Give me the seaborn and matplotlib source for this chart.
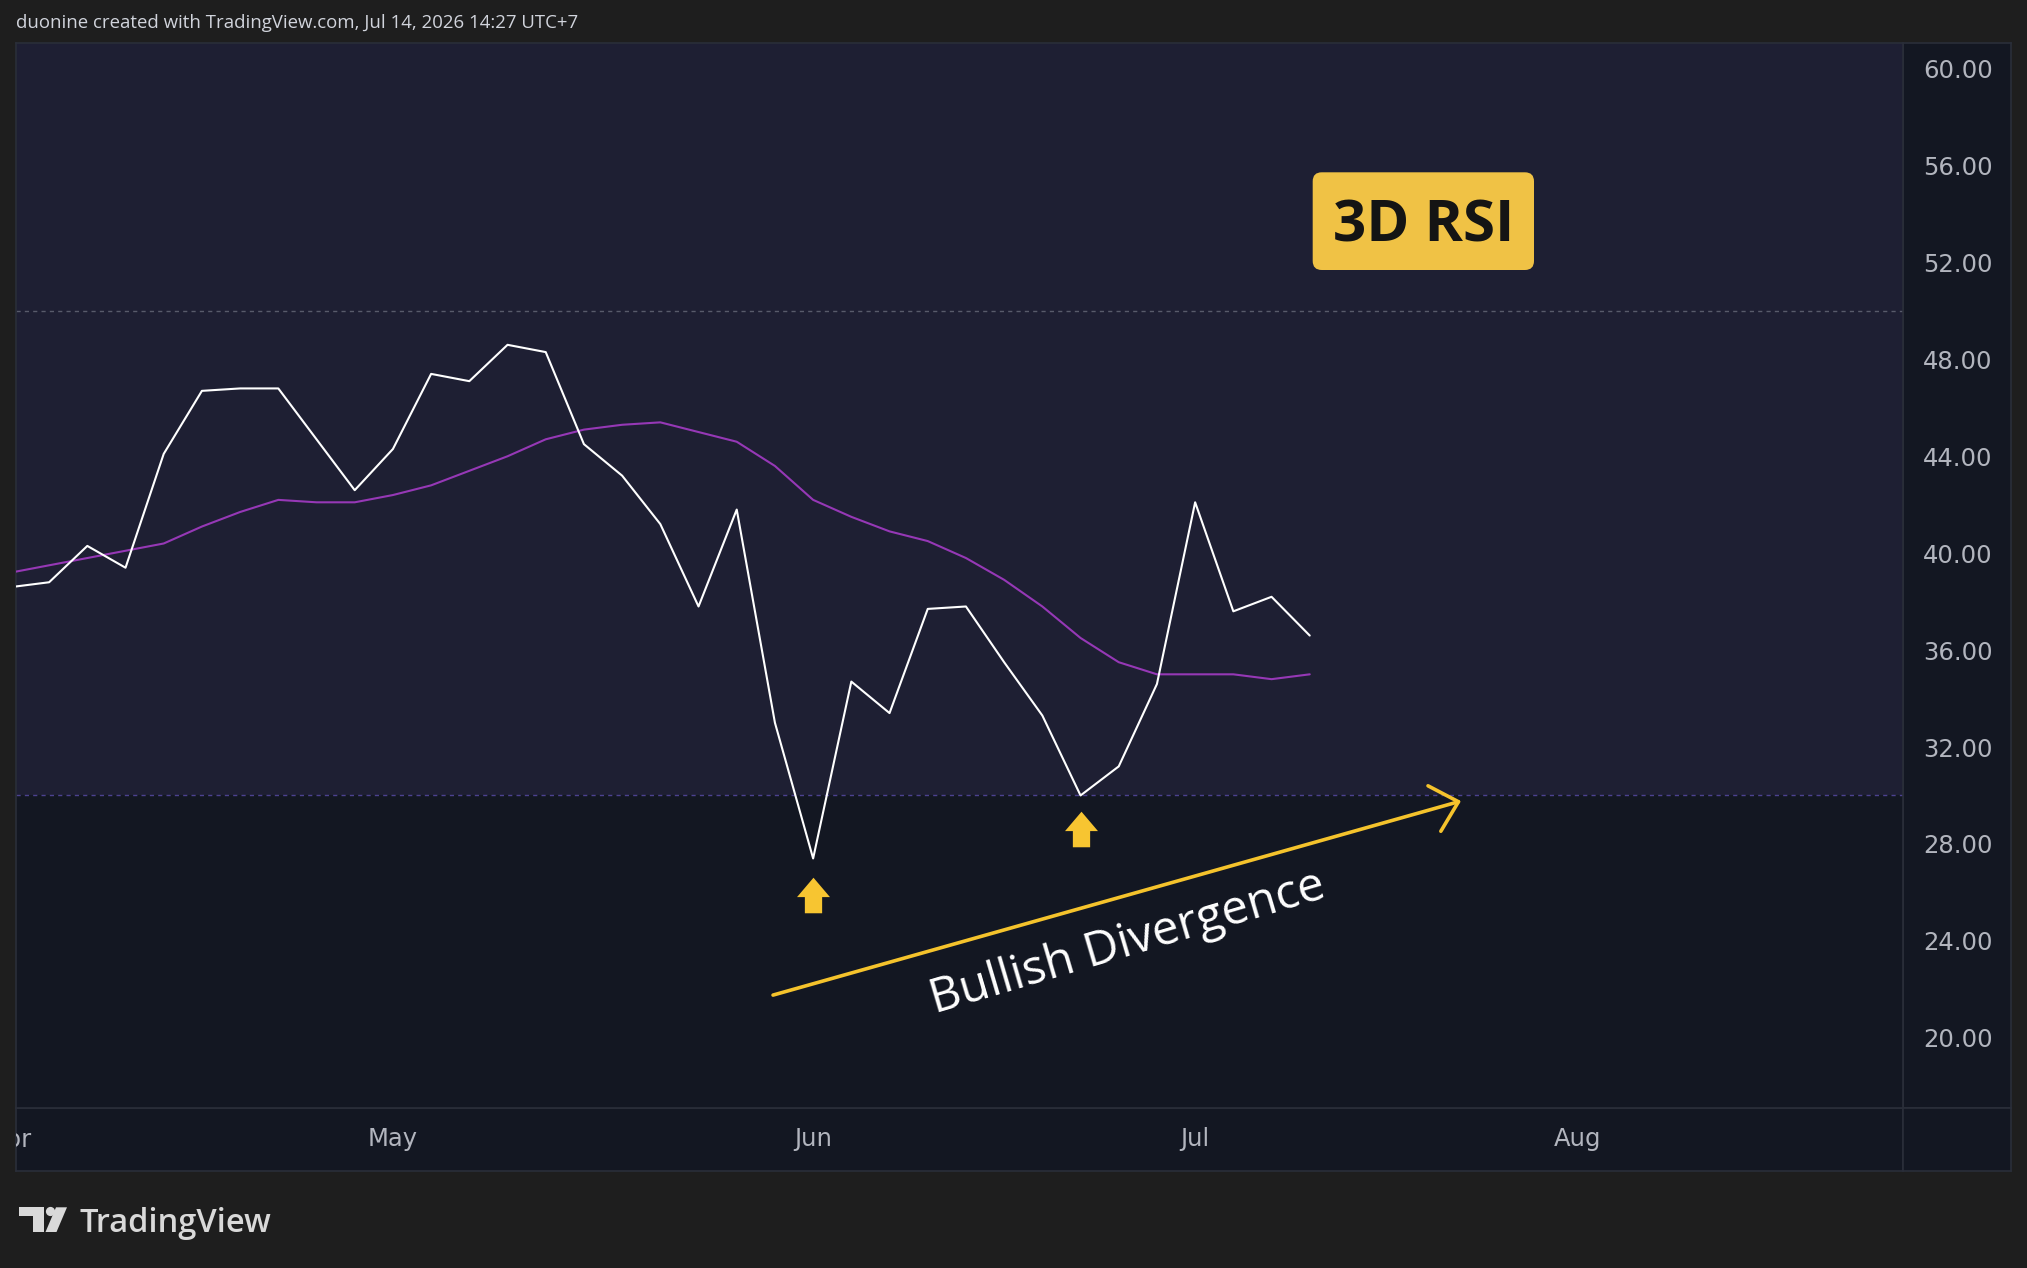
import numpy as np
import pandas as pd
import matplotlib
matplotlib.use("Agg")
import matplotlib.pyplot as plt
import seaborn as sns
from matplotlib.path import Path
from matplotlib.patches import FancyBboxPatch, Rectangle, Circle, Polygon
from matplotlib.transforms import IdentityTransform
from matplotlib import font_manager

# ---------------- data ----------------
bar_index = list(range(-1, 34))
rsi = [38.6, 38.8, 40.3, 39.4, 44.1, 46.7, 46.8, 46.8, 44.7, 42.6,
       44.3, 47.4, 47.1, 48.6, 48.3, 44.5, 43.2, 41.2, 37.8, 41.8,
       33.0, 27.4, 34.7, 33.4, 37.7, 37.8, 35.5, 33.3, 30.0, 31.2,
       34.6, 42.1, 37.6, 38.2, 36.6]
rsi_ma = [39.2, 39.5, 39.8, 40.1, 40.4, 41.1, 41.7, 42.2, 42.1, 42.1,
          42.4, 42.8, 43.4, 44.0, 44.7, 45.1, 45.3, 45.4, 45.0, 44.6,
          43.6, 42.2, 41.5, 40.9, 40.5, 39.8, 38.9, 37.8, 36.5, 35.5,
          35.0, 35.0, 35.0, 34.8, 35.0]
month_labels = ["Apr", "May", "Jun", "Jul", "Aug"]
month_index = [-1, 9, 20, 30, 40]
y_ticks = [20, 24, 28, 32, 36, 40, 44, 48, 52, 56, 60]
level_upper, level_lower = 50, 30
arrow_x = [20, 27]
arrow_y = [25.9, 28.6]
div_start = (18.95, 21.76)
div_end = (36.96, 29.77)

df = pd.DataFrame({"bar": bar_index, "rsi": rsi, "ma": rsi_ma})

# ---------------- style ----------------
sns.set_style("dark")
names = {f.name for f in font_manager.fontManager.ttflist}
txt_font = "Open Sans" if "Open Sans" in names else "DejaVu Sans"
plt.rcParams["font.family"] = [txt_font, "DejaVu Sans"]

W, H = 2027, 1268
BG = "#1e1e1e"
PANE = "#131722"
BAND = "#1e1f33"
GRID = "#2a2e39"
TXT = "#b2b5be"
YEL = "#f5c32c"

fig = plt.figure(figsize=(W / 100, H / 100), dpi=100, facecolor=BG)


def rect(x0, y0, x1, y1):
    return [x0 / W, 1 - y1 / H, (x1 - x0) / W, (y1 - y0) / H]


L, T, R, B = 15.5, 42.7, 1903, 1108
R2, B2 = 2010.5, 1171
XLIM = (-0.88, 48.53)
YLIM = (17.10, 61.07)


def plain(a):
    a.set_facecolor(PANE)
    a.set_xticks([])
    a.set_yticks([])
    for s in a.spines.values():
        s.set_color(GRID)
        s.set_linewidth(1.2)


ax_p = fig.add_axes(rect(R, T, R2, B))
ax_t = fig.add_axes(rect(L, B, R, B2))
ax_c = fig.add_axes(rect(R, B, R2, B2))
for a in (ax_p, ax_t, ax_c):
    plain(a)
ax_t.set_xlim(*XLIM)
ax_t.set_ylim(0, 1)

ax = fig.add_axes(rect(L, T, R, B))
ax.set_facecolor(PANE)
for s in ax.spines.values():
    s.set_color(GRID)
    s.set_linewidth(1.2)
ax.axhspan(level_lower, 70, color=BAND, lw=0, zorder=0)
ax.axhline(level_upper, color="#585b6b", lw=1.0, ls=(0, (3, 3)), zorder=1)
ax.axhline(level_lower, color="#4c4290", lw=1.0, ls=(0, (3, 3)), zorder=1)

sns.lineplot(data=df, x="bar", y="ma", ax=ax, color="#9638b6", lw=1.5, zorder=3)
sns.lineplot(data=df, x="bar", y="rsi", ax=ax, color="white", lw=1.5, zorder=4)

ax.set_xlim(*XLIM)
ax.set_ylim(*YLIM)
ax.set_xlabel("")
ax.set_ylabel("")
ax.grid(False)

ax.yaxis.tick_right()
ax.set_yticks(y_ticks)
ax.set_yticklabels([f"{v:.2f}" for v in y_ticks], family="DejaVu Sans")
ax.tick_params(axis="y", length=0, pad=14.4, labelsize=17.5, labelcolor=TXT)
ax.set_xticks(month_index[1:])
ax.set_xticklabels(month_labels[1:], family="DejaVu Sans")
ax.tick_params(axis="x", length=0, pad=14.0, labelsize=17.5, labelcolor=TXT)
# partially hidden first month label, clipped by the time scale pane
ax_t.text(month_index[0], 0.69, month_labels[0], ha="center", va="top",
          fontsize=17.5, color=TXT, family="DejaVu Sans", clip_on=True)

# divergence arrow
ax.annotate("", xy=div_end, xytext=div_start,
            arrowprops=dict(arrowstyle="->,head_length=0.9,head_width=0.85",
                            color=YEL, lw=2.6, mutation_scale=20,
                            shrinkA=0, shrinkB=0, capstyle="round"))
ax.text(28.22, 23.9, "Bullish Divergence", rotation=16.5, rotation_mode="anchor",
        ha="center", va="center", fontsize=34.5, color="white", zorder=6)

# up arrows
up_verts = [(0, 17.8), (16.5, -1.6), (8.65, -1.6), (8.65, -17.8), (-8.65, -17.8),
            (-8.65, -1.6), (-16.5, -1.6), (0, 17.8)]
up_path = Path(up_verts, [Path.MOVETO] + [Path.LINETO] * 6 + [Path.CLOSEPOLY])
ax.plot(arrow_x, arrow_y, ls="none", marker=up_path, ms=25.6, color="#f7c531",
        mec="none", zorder=6)

# 3D RSI label box
box = FancyBboxPatch((1312.7, H - 270), 221.3, 97.7,
                     boxstyle="round,pad=0,rounding_size=9",
                     transform=IdentityTransform(), fc="#f0c245", ec="none", zorder=5)
fig.add_artist(box)
if "Liberation Sans Narrow" in names:
    rfont, rsize = "Liberation Sans Narrow", 48
else:
    rfont, rsize = txt_font, 42
fig.text(1424 / W, 1 - 241 / H, "3D RSI", ha="center", va="baseline",
         fontsize=rsize, fontweight="bold", family=rfont, color="#141414", zorder=6)

# header
fig.text(15.5 / W, 1 - 23 / H, "duonine created with TradingView.com, Jul 14, 2026 14:27 UTC+7",
         ha="left", va="center", fontsize=13.4, color="#d1d4dc")

# TradingView logo
LOGO = "#d9d9d9"
def P(x, y):
    return (x, H - y)
logo_parts = [
    Polygon([P(19, 1207.3), P(44, 1207.3), P(44, 1232), P(33, 1232), P(33, 1215.5), P(19, 1215.5)],
            closed=True),
    Circle(P(50.5, 1211.5), 4.6),
    Polygon([P(56, 1207.3), P(67, 1207.3), P(56.5, 1232), P(45.5, 1232)], closed=True),
]
for p in logo_parts:
    p.set_transform(IdentityTransform())
    p.set_facecolor(LOGO)
    p.set_edgecolor("none")
    fig.add_artist(p)
fig.text(79 / W, 1 - 1231.7 / H, "TradingView", ha="left", va="baseline",
         fontsize=23.5, fontweight="semibold", color=LOGO)

fig.savefig("out.png", dpi=100, facecolor=BG)
